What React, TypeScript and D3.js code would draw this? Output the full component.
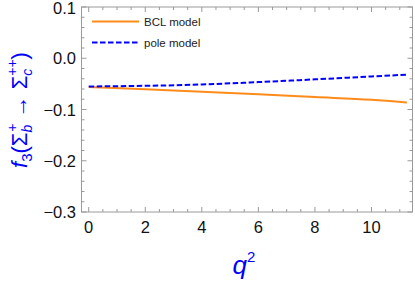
import * as d3 from 'd3';

// q^2 sample points and form factor values
const q2 = [0, 2, 4, 6, 8, 10, 11.25];
const bclValues = [-0.056, -0.0605, -0.0652, -0.0702, -0.0757, -0.0812, -0.0865];
const poleValues = [-0.055, -0.0538, -0.0512, -0.0465, -0.0412, -0.0355, -0.032];

const xMajor = [0, 2, 4, 6, 8, 10];
const yMajor = [0.1, 0.0, -0.1, -0.2, -0.3];

const ORANGE = '#ff8c1a';
const BLUE = '#0000ff';
const AXIS = '#9a9a9a';

export default function App() {
  const W = 415, H = 281;
  const left = 81.5, right = 412.5, top = 7, bottom = 212;

  const x = d3.scaleLinear().domain([-0.255, 11.45]).range([left, right]);
  const y = d3.scaleLinear().domain([-0.3, 0.1]).range([bottom, top]);

  const xMinor = d3.range(0, 11.5, 0.5).filter(v => Math.abs(v % 2) > 1e-9);
  const yMinor = d3.range(-0.3, 0.1001, 0.02).filter(v => Math.abs(Math.round(v * 100) % 10) > 0.5);

  const line = d3.line<number>()
    .x((_, i) => x(q2[i]))
    .y(d => y(d))
    .curve(d3.curveMonotoneX);

  const font = '"Liberation Sans", Arial, sans-serif';
  const fmt = (v: number) => (v < 0 ? '\u2212' : '') + Math.abs(v).toFixed(1);

  return (
    <svg width={W} height={H} style={{ position: 'absolute', left: 0, top: 0 }} fontFamily={font}>
      <rect width={W} height={H} fill="white" />
      {/* frame */}
      <rect x={left} y={top} width={right - left} height={bottom - top} fill="none" stroke={AXIS} strokeWidth={1} />

      {/* x ticks (bottom + top) */}
      {xMajor.map(v => (
        <g key={'xm' + v}>
          <line x1={x(v)} x2={x(v)} y1={bottom} y2={bottom - 5} stroke={AXIS} />
          <line x1={x(v)} x2={x(v)} y1={top} y2={top + 5} stroke={AXIS} />
          <text x={x(v)} y={bottom + 20.5} textAnchor="middle" fontSize={16.5} fill="#111">{v}</text>
        </g>
      ))}
      {xMinor.map(v => (
        <g key={'xn' + v}>
          <line x1={x(v)} x2={x(v)} y1={bottom} y2={bottom - 3} stroke={AXIS} />
          <line x1={x(v)} x2={x(v)} y1={top} y2={top + 3} stroke={AXIS} />
        </g>
      ))}

      {/* y ticks (left + right) */}
      {yMajor.map(v => (
        <g key={'ym' + v}>
          <line x1={left} x2={left + 5} y1={y(v)} y2={y(v)} stroke={AXIS} />
          <line x1={right} x2={right - 5} y1={y(v)} y2={y(v)} stroke={AXIS} />
          <text x={left - 5.5} y={Math.max(y(v) + 6, 13.5)} textAnchor="end" fontSize={16.5} fill="#111">{fmt(v)}</text>
        </g>
      ))}
      {yMinor.map(v => (
        <g key={'yn' + v}>
          <line x1={left} x2={left + 3} y1={y(v)} y2={y(v)} stroke={AXIS} />
          <line x1={right} x2={right - 3} y1={y(v)} y2={y(v)} stroke={AXIS} />
        </g>
      ))}

      {/* curves */}
      <path d={line(bclValues) || ''} fill="none" stroke={ORANGE} strokeWidth={2} />
      <path d={line(poleValues) || ''} fill="none" stroke={BLUE} strokeWidth={2} strokeDasharray="5.5,2.5" />

      {/* legend */}
      <line x1={92} x2={139} y1={21.5} y2={21.5} stroke={ORANGE} strokeWidth={2} />
      <text x={144} y={25.5} fontSize={11.5} fill="#222">BCL model</text>
      <line x1={92} x2={139} y1={42.5} y2={42.5} stroke={BLUE} strokeWidth={2} strokeDasharray="5.5,2.5" />
      <text x={144} y={46.5} fontSize={11.5} fill="#222">pole model</text>

      {/* axis labels */}
      <text x={244} y={274} textAnchor="middle" fill={BLUE} fontSize={26}>
        <tspan fontStyle="italic">q</tspan>
        <tspan fontSize={15} dy={-12}>2</tspan>
      </text>
      <text transform="translate(27,110) rotate(-90)" textAnchor="middle" fill={BLUE} fontSize={22}>
        <tspan fontStyle="italic">f</tspan>
        <tspan fontSize={15} dy={5}>3</tspan>
        <tspan dy={-5}>(Σ</tspan>
        <tspan fontSize={14} fontStyle="italic" dy={5}>b</tspan>
        <tspan fontSize={14} dx={-7} dy={-15}>+</tspan>
        <tspan dy={10}> → Σ</tspan>
        <tspan fontSize={14} fontStyle="italic" dy={5}>c</tspan>
        <tspan fontSize={14} dx={-7} dy={-15}>++</tspan>
        <tspan dy={10}>)</tspan>
      </text>
    </svg>
  );
}
